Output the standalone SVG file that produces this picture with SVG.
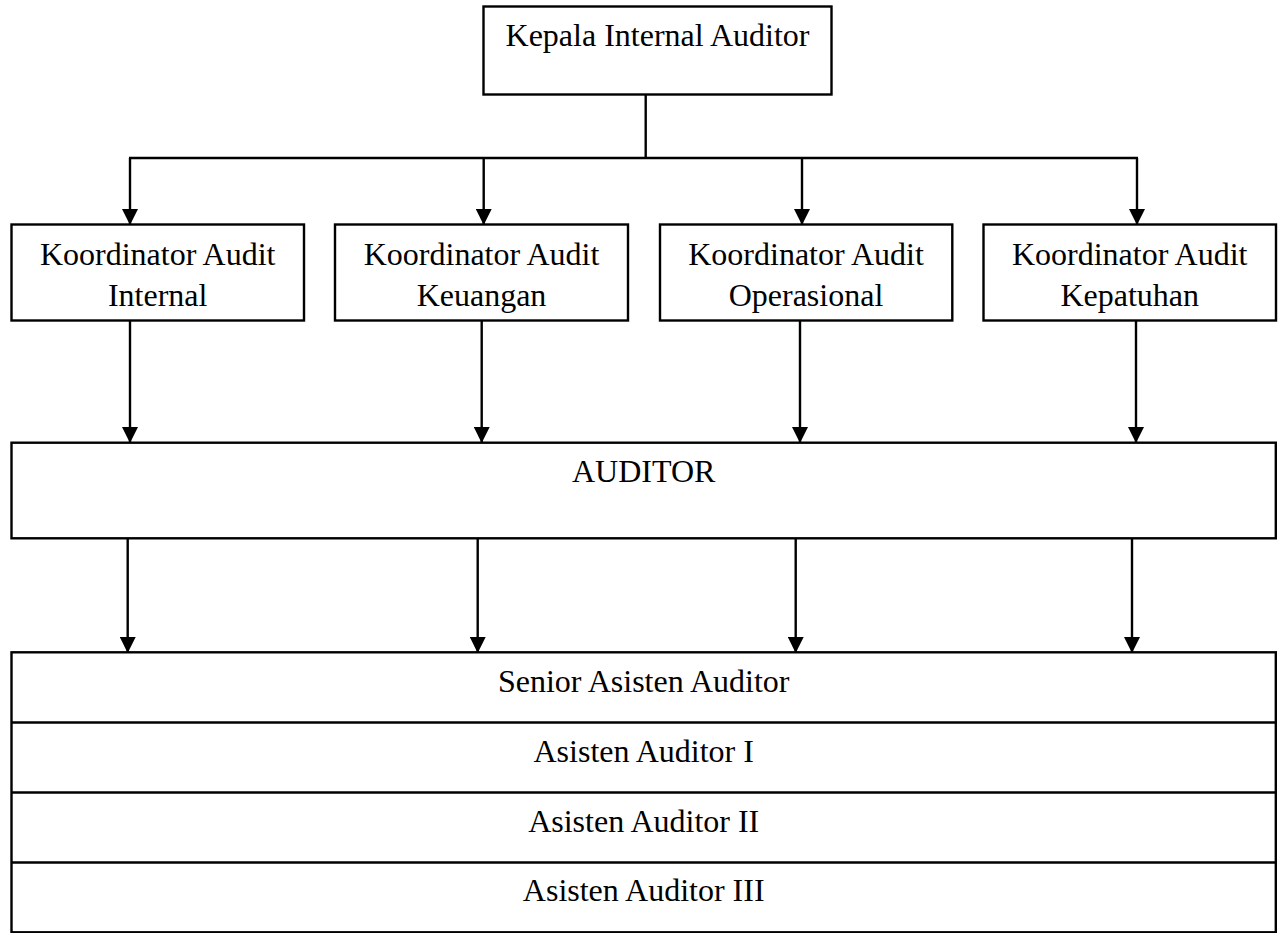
<svg xmlns="http://www.w3.org/2000/svg" width="1278" height="933" viewBox="0 0 1278 933">
<style>
.box{fill:#fff;stroke:#000;stroke-width:2.4}
.ln{stroke:#000;stroke-width:2.4;fill:none}
.t{font-family:"Liberation Serif","Times New Roman",serif;font-size:32px;fill:#000;text-anchor:middle}
</style>
<defs>
<marker id="arr" markerUnits="userSpaceOnUse" markerWidth="16" markerHeight="16" refX="15" refY="8" orient="auto" viewBox="0 0 16 16">
<path d="M0,0 L16,8 L0,16 z" fill="#000"/>
</marker>
</defs>
<rect width="1278" height="933" fill="#fff"/>
<g id="connectors">
<line class="ln" x1="645.7" y1="95" x2="645.7" y2="158"/>
<line class="ln" x1="129" y1="158" x2="1138" y2="158"/>
<line class="ln" x1="130" y1="158" x2="130" y2="224" marker-end="url(#arr)"/>
<line class="ln" x1="483.7" y1="158" x2="483.7" y2="224" marker-end="url(#arr)"/>
<line class="ln" x1="802" y1="158" x2="802" y2="224" marker-end="url(#arr)"/>
<line class="ln" x1="1137" y1="158" x2="1137" y2="224" marker-end="url(#arr)"/>
<line class="ln" x1="130" y1="321" x2="130" y2="442" marker-end="url(#arr)"/>
<line class="ln" x1="481.7" y1="321" x2="481.7" y2="442" marker-end="url(#arr)"/>
<line class="ln" x1="800" y1="321" x2="800" y2="442" marker-end="url(#arr)"/>
<line class="ln" x1="1136" y1="321" x2="1136" y2="442" marker-end="url(#arr)"/>
<line class="ln" x1="127.7" y1="538.5" x2="127.7" y2="652" marker-end="url(#arr)"/>
<line class="ln" x1="477.7" y1="538.5" x2="477.7" y2="652" marker-end="url(#arr)"/>
<line class="ln" x1="795.7" y1="538.5" x2="795.7" y2="652" marker-end="url(#arr)"/>
<line class="ln" x1="1132" y1="538.5" x2="1132" y2="652" marker-end="url(#arr)"/>
</g>
<g id="kepala">
<rect class="box" x="483.5" y="6.5" width="348" height="88"/>
<text class="t" x="657.5" y="46">Kepala Internal Auditor</text>
</g>
<g id="koord-internal">
<rect class="box" x="11.5" y="224.5" width="292.5" height="96"/>
<text class="t" x="157.7" y="265">Koordinator Audit</text>
<text class="t" x="157.7" y="305.5">Internal</text>
</g>
<g id="koord-keuangan">
<rect class="box" x="335" y="224.5" width="293" height="96"/>
<text class="t" x="481.5" y="265">Koordinator Audit</text>
<text class="t" x="481.5" y="305.5">Keuangan</text>
</g>
<g id="koord-operasional">
<rect class="box" x="660" y="224.5" width="292.3" height="96"/>
<text class="t" x="806" y="265">Koordinator Audit</text>
<text class="t" x="806" y="305.5">Operasional</text>
</g>
<g id="koord-kepatuhan">
<rect class="box" x="983.5" y="224.5" width="292.5" height="96"/>
<text class="t" x="1129.7" y="265">Koordinator Audit</text>
<text class="t" x="1129.7" y="305.5">Kepatuhan</text>
</g>
<g id="auditor">
<rect class="box" x="11.5" y="442.7" width="1264.3" height="95.6"/>
<text class="t" x="643.7" y="481.7">AUDITOR</text>
</g>
<g id="staff">
<rect class="box" x="11.5" y="652.3" width="1264.3" height="280"/>
<line class="ln" x1="11.5" y1="722.5" x2="1275.8" y2="722.5"/>
<line class="ln" x1="11.5" y1="792.5" x2="1275.8" y2="792.5"/>
<line class="ln" x1="11.5" y1="862.5" x2="1275.8" y2="862.5"/>
<text class="t" x="643.7" y="691.7">Senior Asisten Auditor</text>
<text class="t" x="643.7" y="761.7">Asisten Auditor I</text>
<text class="t" x="643.7" y="831.7">Asisten Auditor II</text>
<text class="t" x="643.7" y="900.7">Asisten Auditor III</text>
</g>
</svg>
